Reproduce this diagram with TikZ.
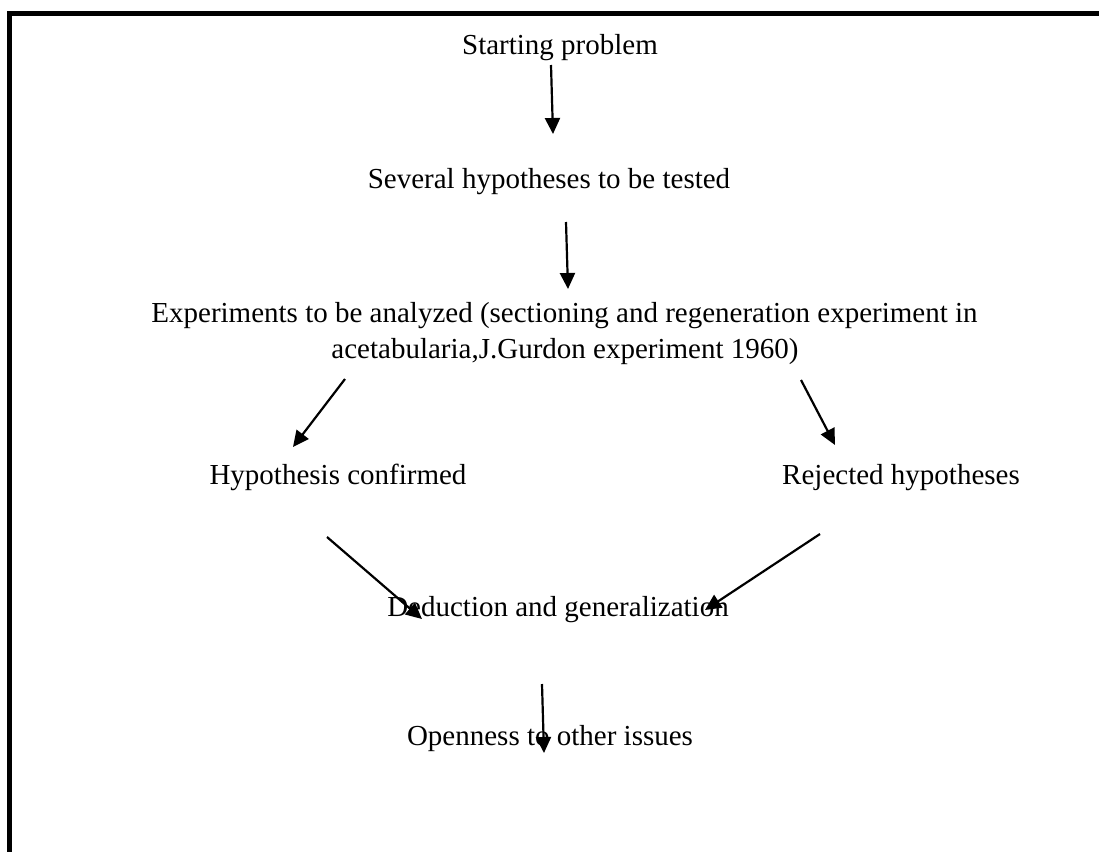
\documentclass[tikz,border=0pt]{standalone}
\usepackage{fontspec}
\setmainfont{Liberation Serif}
\usetikzlibrary{arrows.meta}
\begin{document}
\begin{tikzpicture}[x=0.5pt,y=-0.5pt,
  lbl/.style={anchor=base,inner sep=0pt,font=\fontsize{14.5}{18}\selectfont},
  conn/.style={line width=1.1pt,-{Triangle[length=8pt,width=7.5pt]}},
  frame/.style={line width=2.6pt}]
\useasboundingbox (0,0) rectangle (1099,852);
% frame
\coordinate (ftl) at (9.5,13.5);
\coordinate (ftr) at (1099,13.5);
\coordinate (fbl) at (9.5,852);
\draw[frame] (fbl) -- (ftl) -- (ftr);
% texts
\node[lbl] (start) at (560,54) {Starting problem};
\node[lbl] (hyp) at (549,188) {Several hypotheses to be tested};
\node[lbl] (expa) at (564.5,322) {Experiments to be analyzed (sectioning and regeneration experiment in};
\node[lbl] (expb) at (565,358) {acetabularia,J.Gurdon experiment 1960)};
\node[lbl] (conf) at (338,484) {Hypothesis confirmed};
\node[lbl] (rej) at (901,484) {Rejected hypotheses};
\node[lbl] (ded) at (558,616) {Deduction and generalization};
\node[lbl] (open) at (550,745) {Openness to other issues};
% arrow end points
\coordinate (a1s) at (551,65);   \coordinate (a1e) at (553,134);
\coordinate (a2s) at (566,222);  \coordinate (a2e) at (568,289);
\coordinate (a3s) at (345,379);  \coordinate (a3e) at (293,447);
\coordinate (a4s) at (801,380);  \coordinate (a4e) at (835,445);
\coordinate (a5s) at (327,537);  \coordinate (a5e) at (422,619);
\coordinate (a6s) at (820,534);  \coordinate (a6e) at (705,610);
\coordinate (a7s) at (542,684);  \coordinate (a7e) at (544,753);
\draw[conn] (a1s) -- (a1e);
\draw[conn] (a2s) -- (a2e);
\draw[conn] (a3s) -- (a3e);
\draw[conn] (a4s) -- (a4e);
\draw[conn] (a5s) -- (a5e);
\draw[conn] (a6s) -- (a6e);
\draw[conn] (a7s) -- (a7e);
\end{tikzpicture}
\end{document}
